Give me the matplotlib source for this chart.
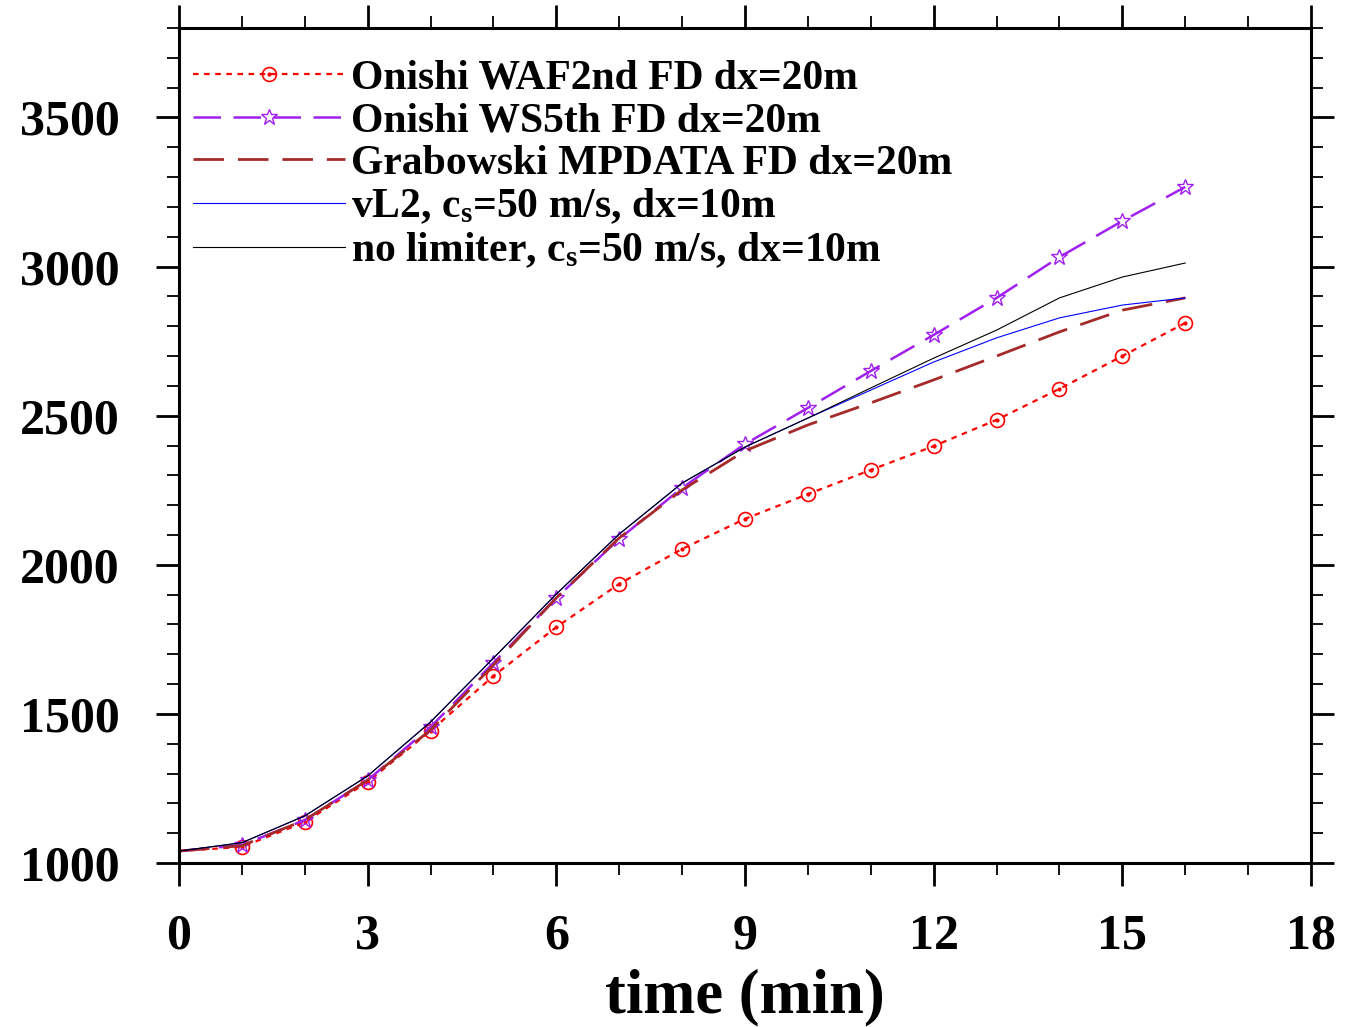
import numpy as np
import matplotlib
matplotlib.use('Agg')
import matplotlib.pyplot as plt
from matplotlib.ticker import MultipleLocator
from matplotlib.legend_handler import HandlerTuple

plt.rcParams['font.family'] = 'Liberation Serif'
plt.rcParams['font.weight'] = 'bold'
plt.rcParams['mathtext.fontset'] = 'custom'
plt.rcParams['mathtext.rm'] = 'Liberation Serif:bold'
plt.rcParams['mathtext.it'] = 'Liberation Serif:bold'
plt.rcParams['mathtext.default'] = 'rm'

# time in minutes
t = [0, 1, 2, 3, 4, 5, 6, 7, 8, 9, 10, 11, 12, 13, 14, 15, 16]

waf2nd = [1040, 1054, 1137, 1272, 1443, 1627, 1791, 1936, 2053, 2154,
          2237, 2318, 2398, 2486, 2590, 2700, 2811]
ws5th = [1040, 1060, 1144, 1278, 1456, 1671, 1889, 2087, 2258, 2405,
         2526, 2650, 2771, 2895, 3032, 3153, 3267]
mpdata = [1040, 1058, 1144, 1278, 1446, 1664, 1889, 2090, 2251, 2382,
          2469, 2543, 2620, 2700, 2781, 2854, 2895]
vl2 = [1040, 1068, 1158, 1292, 1473, 1687, 1902, 2103, 2274, 2395,
       2492, 2586, 2680, 2761, 2828, 2871, 2895]
nolim = [1040, 1068, 1158, 1292, 1473, 1687, 1902, 2103, 2274, 2395,
         2492, 2593, 2693, 2787, 2895, 2965, 3012]

labels = ['Onishi WAF2nd FD dx=20m',
          'Onishi WS5th FD dx=20m',
          'Grabowski MPDATA FD dx=20m',
          r'vL2, c$_s$=50 m/s, dx=10m',
          r'no limiter, c$_s$=50 m/s, dx=10m']

fig = plt.figure(figsize=(13.51, 10.27), dpi=100)
ax = fig.add_axes([0.1325, 0.1597, 0.8379, 0.8130])

red = '#ff0000'
purple = '#a020f0'
brown = '#a52a2a'

l1, = ax.plot(t, waf2nd, color=red, lw=1.6, ls=(0, (2.5, 2.5)),
              marker='o', ms=10, mfc='none', mec=red, mew=1.2,
              markevery=slice(1, None))
d1, = ax.plot(t, waf2nd, ls='none', marker='o', ms=2, color=red,
              markevery=slice(1, None))
l2, = ax.plot(t, ws5th, color=purple, lw=1.8, ls=(0, (11, 5)),
              marker='*', ms=12, mfc='none', mec=purple, mew=1.0,
              markevery=slice(1, None))
l3, = ax.plot(t, mpdata, color=brown, lw=2.0, ls=(0, (11, 5)))
l4, = ax.plot(t, vl2, color='blue', lw=0.8)
l5, = ax.plot(t, nolim, color='black', lw=0.8)

ax.legend([(l1, d1), l2, l3, l4, l5], labels,
          handler_map={tuple: HandlerTuple(ndivide=1)},
          loc='upper left', bbox_to_anchor=(0.012, 0.962),
          frameon=False, fontsize=30, handlelength=3.65,
          handletextpad=0.15, labelspacing=0.1, borderpad=0,
          borderaxespad=0)

ax.set_xlim(0, 18)
ax.set_ylim(1000, 3800)
ax.xaxis.set_major_locator(MultipleLocator(3))
ax.xaxis.set_minor_locator(MultipleLocator(1))
ax.yaxis.set_major_locator(MultipleLocator(500))
ax.yaxis.set_minor_locator(MultipleLocator(100))
ax.set_yticks([1000, 1500, 2000, 2500, 3000, 3500])

for s in ax.spines.values():
    s.set_linewidth(2.2)
ax.tick_params(which='both', direction='out', top=True, right=True)
ax.tick_params(which='major', length=16.5, width=2.0, labelsize=36, pad=20)
ax.tick_params(which='minor', length=8.5, width=1.3)
ax.tick_params(axis='y', which='major', pad=26)

ax.set_xlabel('time (min)', fontsize=45, fontweight='bold', labelpad=6)

fig.savefig('out.png', dpi=100)
